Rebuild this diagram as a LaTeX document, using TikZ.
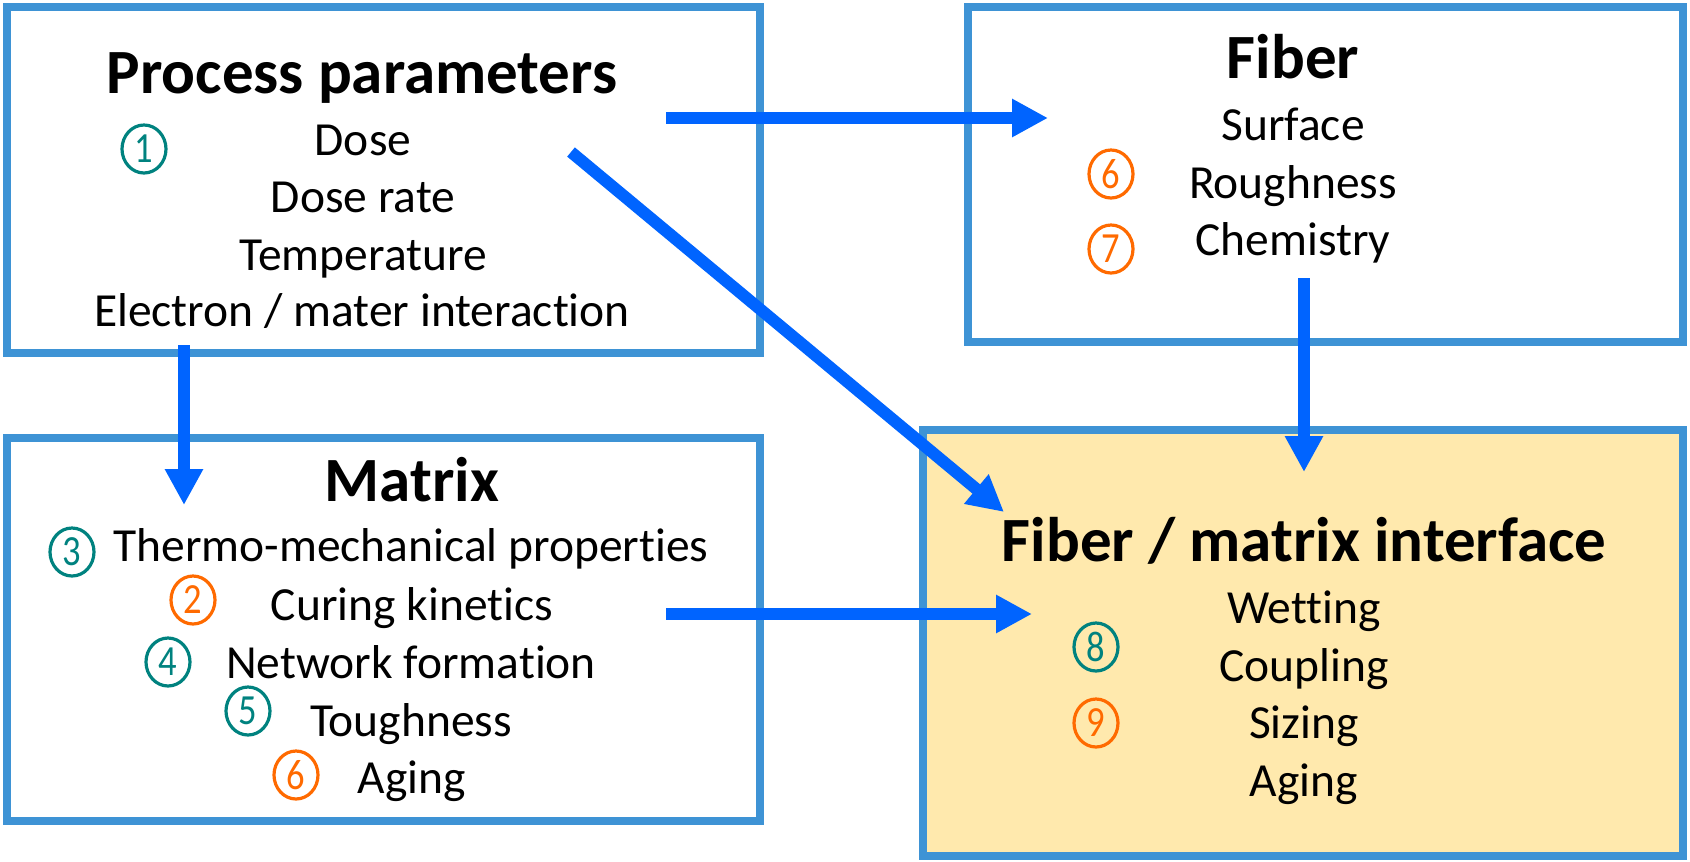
\documentclass[tikz,border=0pt]{standalone}
\usepackage{fontspec}
\setmainfont{Carlito}[Ligatures=NoCommon]
\usetikzlibrary{shapes.geometric,arrows.meta}
\definecolor{panelblue}{HTML}{3E93D5}
\definecolor{flowblue}{HTML}{0064FF}
\definecolor{ifacefill}{HTML}{FFE9AD}
\definecolor{numteal}{HTML}{00827F}
\definecolor{numorange}{HTML}{FF6A00}
\tikzset{
  panel/.style={draw=panelblue, line width=7.5pt, rectangle, inner sep=0pt},
  title/.style={anchor=base, font=\fontsize{63}{70}\selectfont\bfseries},
  item/.style={anchor=base, font=\fontsize{47.5}{54}\selectfont},
  flow/.style={draw=flowblue, line width=12pt,
    -{Triangle[length=36pt,width=36pt]}},
  circnum/.style={ellipse, draw=#1, text=#1, line width=3.2pt,
    minimum width=44pt, minimum height=48pt, inner sep=0pt,
    font=\fontsize{43}{43}\selectfont},
}
\newcommand{\cnum}[1]{\scalebox{0.85}[1]{#1}}
\begin{document}
\begin{tikzpicture}[x=1pt,y=-1pt]
\useasboundingbox (0,0) rectangle (1690,862);

% the four panels
\node[panel, minimum width=753pt, minimum height=346pt] (proc) at (383.5,180) {};
\node[panel, minimum width=715pt, minimum height=335pt] (fiber) at (1325.5,174.5) {};
\node[panel, minimum width=753pt, minimum height=383pt] (matrix) at (383.5,629.5) {};
\node[panel, fill=ifacefill, minimum width=760pt, minimum height=426pt] (iface) at (1303,643) {};

% process parameters
\node[title] (procT) at (362,93) {Process parameters};
\node[item] (dose) at (363,155) {Dose};
\node[item] (rate) at (363,212) {Dose rate};
\node[item] (temp) at (363,270) {Temperature};
\node[item] (elec) at (362,326) {Electron / mater interaction};
\node[circnum=numteal] (n1) at (144,149) {\cnum{1}};

% fiber
\node[title] (fibT) at (1293,78) {Fiber};
\node[item] (surf) at (1293,140) {Surface};
\node[item] (rough) at (1293,198) {Roughness};
\node[item] (chem) at (1293,255) {Chemistry};
\node[circnum=numorange] (n6a) at (1111,174) {\cnum{6}};
\node[circnum=numorange] (n7) at (1111,249) {\cnum{7}};

% matrix
\node[title] (matT) at (412,501) {Matrix};
\node[item] (thermo) at (411,561) {Thermo-mechanical properties};
\node[item] (curing) at (412,620) {Curing kinetics};
\node[item] (network) at (411,678) {Network formation};
\node[item] (tough) at (411,736) {Toughness};
\node[item] (agingM) at (412,793) {Aging};
\node[circnum=numteal] (n3) at (72,552) {\cnum{3}};
\node[circnum=numorange] (n2) at (193,600) {\cnum{2}};
\node[circnum=numteal] (n4) at (168,662) {\cnum{4}};
\node[circnum=numteal] (n5) at (248,711) {\cnum{5}};
\node[circnum=numorange] (n6b) at (296,775) {\cnum{6}};

% fiber / matrix interface
\node[title] (ifT) at (1304,561) {Fiber / matrix interface};
\node[item] (wet) at (1304,623) {Wetting};
\node[item] (coup) at (1304,681) {Coupling};
\node[item] (siz) at (1304,738) {Sizing};
\node[item] (agingI) at (1304,796) {Aging};
\node[circnum=numteal] (n8) at (1096,647) {\cnum{8}};
\node[circnum=numorange] (n9) at (1096,723) {\cnum{9}};

% arrow ends
\coordinate (pf0) at (666,118);
\coordinate (pf1) at (1048,118);
\coordinate (pi0) at (571,152);
\coordinate (pi1) at (1004,512);
\coordinate (pm0) at (184,345);
\coordinate (pm1) at (184,505);
\coordinate (fi0) at (1304,278);
\coordinate (fi1) at (1304,472);
\coordinate (mi0) at (666,614);
\coordinate (mi1) at (1032,614);

\draw[flow] (pf0) -- (pf1);
\draw[flow] (pi0) -- (pi1);
\draw[flow] (pm0) -- (pm1);
\draw[flow] (fi0) -- (fi1);
\draw[flow] (mi0) -- (mi1);
\end{tikzpicture}
\end{document}
